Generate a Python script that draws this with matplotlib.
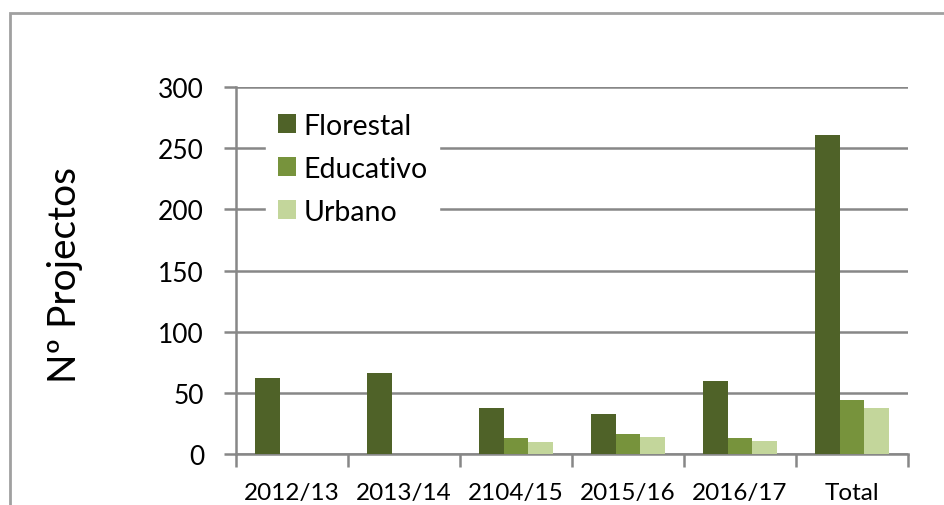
import matplotlib
matplotlib.use("Agg")
import matplotlib.pyplot as plt
import numpy as np
from matplotlib.patches import Rectangle

categories = ["2012/13", "2013/14", "2104/15", "2015/16", "2016/17", "Total"]
florestal = [62, 66, 38, 33, 60, 261]
educativo = [0, 0, 13, 16, 13, 44]
urbano = [0, 0, 10, 14, 11, 38]
series_names = ["Florestal", "Educativo", "Urbano"]
colors = ["#4F6228", "#77933C", "#C3D69B"]
yticks = [0, 50, 100, 150, 200, 250, 300]

plt.rcParams['font.family'] = ['Lato', 'DejaVu Sans']

fig = plt.figure(figsize=(9.45, 5.06), dpi=100)
ax = fig.add_axes([236/945, 1-455/506, (908-236)/945, (455-88)/506])

x = np.arange(len(categories))
w = 0.22
grid_c = "#878787"
for i, (vals, name, c) in enumerate(zip([florestal, educativo, urbano], series_names, colors)):
    ax.bar(x + (i-1)*w, vals, width=w, color=c, label=name, zorder=3)

ax.set_xlim(-0.5, len(categories)-0.5)
ax.set_ylim(0, 300)
ax.set_yticks(yticks)
ax.set_yticklabels([str(v) for v in yticks])
ax.yaxis.grid(True, color=grid_c, linewidth=1.8, zorder=0)
ax.set_axisbelow(True)

ax.set_xticks(x)
ax.set_xticklabels(categories)
ax.set_xticks(np.arange(-0.5, len(categories)), minor=True)
ax.tick_params(axis='x', which='major', length=0, pad=20, labelsize=17.5)
ax.tick_params(axis='x', which='minor', length=9, width=1.8, color=grid_c, direction='out')
ax.tick_params(axis='y', which='major', length=9, width=1.8, color=grid_c, pad=14, labelsize=19)

for s in ['top', 'right']:
    ax.spines[s].set_visible(False)
for s in ['left', 'bottom']:
    ax.spines[s].set_color(grid_c)
    ax.spines[s].set_linewidth(1.8)

leg = ax.legend(loc='upper left', bbox_to_anchor=(16/672, (455-88)/367), frameon=True,
                fancybox=False, framealpha=1, edgecolor='white', fontsize=20.5,
                handlelength=0.63, handleheight=0.63, handletextpad=0.28,
                labelspacing=0.6, borderpad=0.4)

fig.text(65/945, 1-275/506, "Nº Projectos", rotation=90, ha='center', va='center', fontsize=28)

fig.patches.append(Rectangle((10/945, -0.2), 1.2, 0.2+1-14/506, transform=fig.transFigure,
                             fill=False, edgecolor="#A0A0A0", linewidth=2))

fig.savefig("out.png", dpi=100)
